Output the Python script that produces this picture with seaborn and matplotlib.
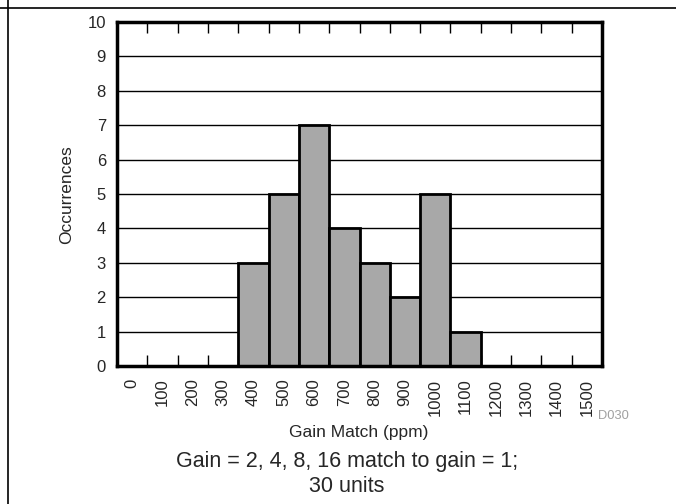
import numpy as np
import pandas as pd
import matplotlib
matplotlib.use("Agg")
import matplotlib.pyplot as plt
import seaborn as sns
from matplotlib.lines import Line2D
from matplotlib.ticker import FixedLocator

# bins (ppm) and counts
GAIN_BINS = ["0", "100", "200", "300", "400", "500", "600", "700",
             "800", "900", "1000", "1100", "1200", "1300", "1400", "1500"]
OCCURRENCES = [0, 0, 0, 0, 3, 5, 7, 4, 3, 2, 5, 1, 0, 0, 0, 0]
Y_TICKS = list(range(0, 11))

sns.set_theme(style="white")
plt.rcParams["font.family"] = ["Liberation Sans", "DejaVu Sans"]

df = pd.DataFrame({"bin": GAIN_BINS, "count": OCCURRENCES})

fig = plt.figure(figsize=(6.76, 5.04), dpi=100)
ax = fig.add_axes([117 / 676, 1 - 366 / 504, (602 - 117) / 676, (366 - 22) / 504])

sns.barplot(data=df, x="bin", y="count", order=GAIN_BINS, color="#a8a8a8",
            saturation=1, width=1.0, edgecolor="black", linewidth=2, ax=ax)

ax.set_xlim(-0.5, len(GAIN_BINS) - 0.5)
ax.set_ylim(0, 10)
ax.set_yticks(Y_TICKS)
ax.yaxis.grid(True, color="black", linewidth=1)
ax.set_axisbelow(True)

# tick marks sit on bin edges, labels under bin centres
ax.xaxis.set_minor_locator(FixedLocator(np.arange(0.5, len(GAIN_BINS) - 1, 1.0)))
ax.tick_params(axis="x", which="major", length=0, labelrotation=90, labelsize=12, pad=9)
ax.tick_params(axis="x", which="minor", direction="in", length=8, width=1,
               top=True, bottom=True, color="black")
ax.tick_params(axis="y", which="major", length=0, labelsize=12, pad=8)
for lbl in ax.get_xticklabels():
    lbl.set_verticalalignment("top")

for sp in ax.spines.values():
    sp.set_visible(True)
    sp.set_color("black")
    sp.set_linewidth(2.5)

ax.set_xlabel("")
ax.set_ylabel("")
fig.text(67 / 676, 1 - 195 / 504, "Occurrences", rotation=90, ha="center",
         va="center", fontsize=12.5)

fig.text(359 / 676, 1 - 432 / 504, "Gain Match (ppm)", ha="center", va="center",
         fontsize=12.5)
fig.text(347 / 676, 1 - 474 / 504, "Gain = 2, 4, 8, 16 match to gain = 1;\n30 units",
         ha="center", va="center", fontsize=15.5, linespacing=1.2)
fig.text(613 / 676, 1 - 416 / 504, "D030", ha="center", va="center",
         fontsize=9.3, color="#a0a0a0")

# frame lines of the surrounding page
fig.add_artist(Line2D([0, 1], [1 - 8 / 504] * 2, color="black", linewidth=1.2,
                      transform=fig.transFigure))
fig.add_artist(Line2D([8 / 676] * 2, [0, 1], color="black", linewidth=1.2,
                      transform=fig.transFigure))

fig.savefig("out.png", dpi=100)
